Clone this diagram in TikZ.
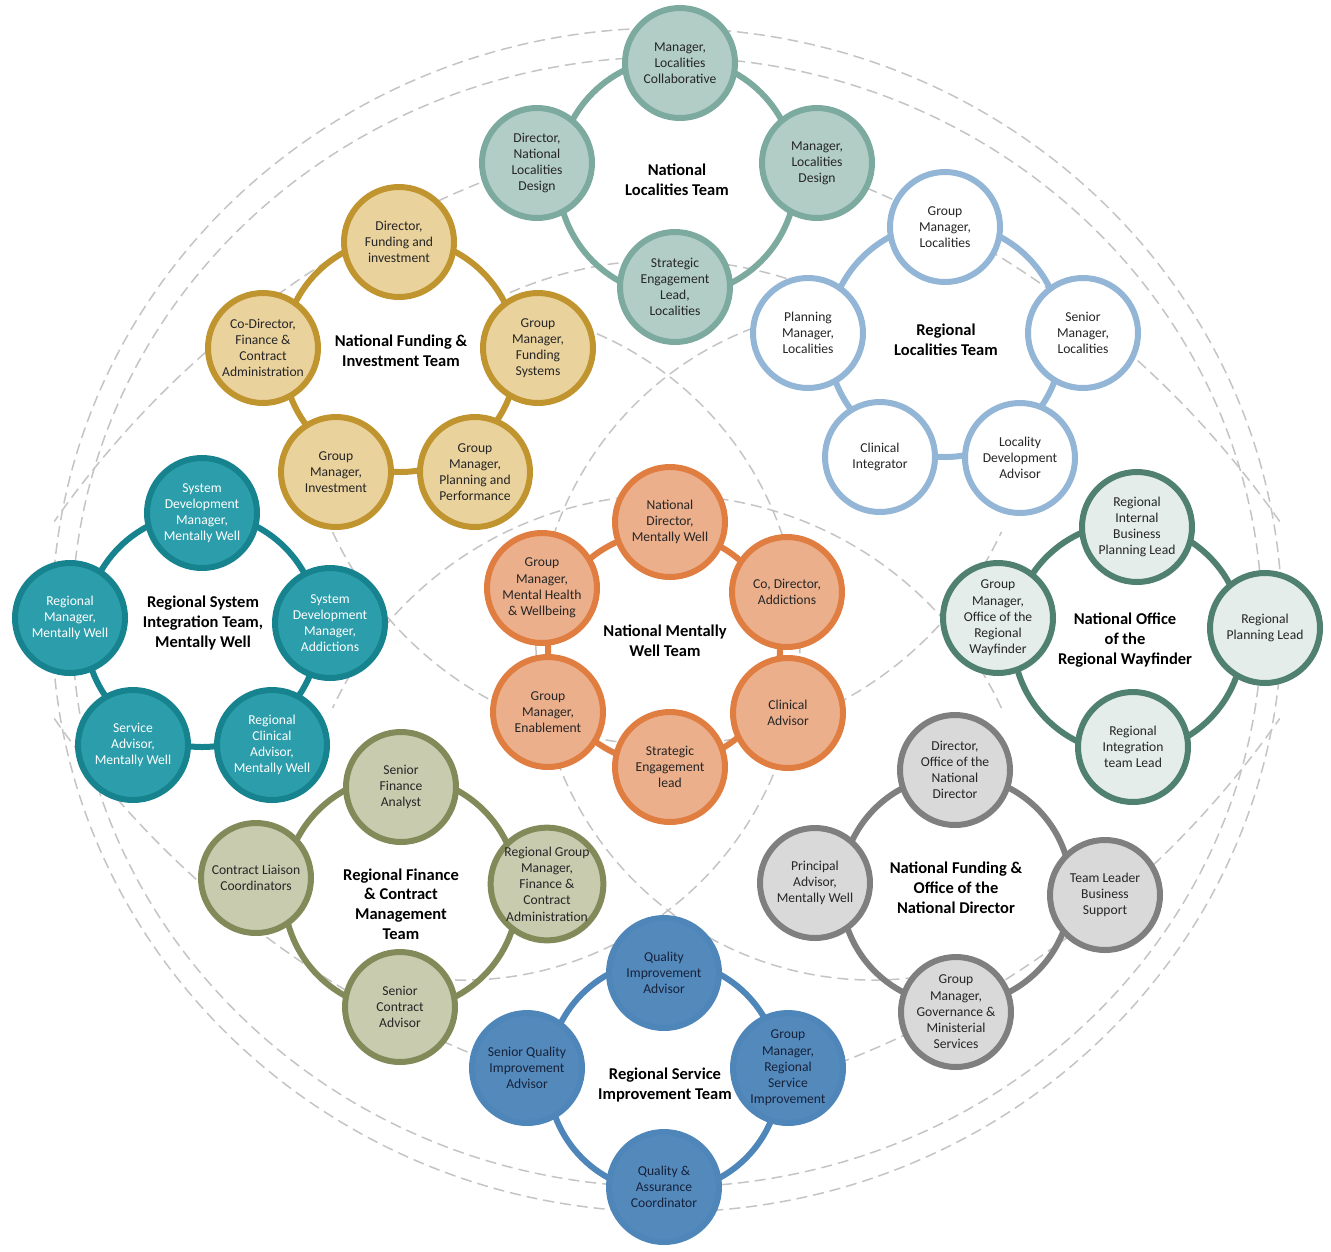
\documentclass[tikz,border=0pt]{standalone}
\usepackage{fontspec}
\setmainfont{Carlito}
\definecolor{locB}{HTML}{7DAA9E}
\definecolor{locF}{HTML}{B2CDC6}
\definecolor{fundB}{HTML}{C09530}
\definecolor{fundF}{HTML}{EAD29D}
\definecolor{rlocB}{HTML}{94B6D6}
\definecolor{sysB}{HTML}{16838F}
\definecolor{sysF}{HTML}{2C9EAB}
\definecolor{mwB}{HTML}{E07D41}
\definecolor{mwF}{HTML}{ECAF8C}
\definecolor{wayB}{HTML}{508070}
\definecolor{wayF}{HTML}{E4EDEA}
\definecolor{ndB}{HTML}{7F7F7F}
\definecolor{ndF}{HTML}{D9D9D9}
\definecolor{finB}{HTML}{838A59}
\definecolor{finF}{HTML}{C9CBAF}
\definecolor{rsiB}{HTML}{4F86B9}
\definecolor{rsiF}{HTML}{5489BC}
\definecolor{dashC}{HTML}{C4C4C4}
\definecolor{txt}{HTML}{262626}
\definecolor{rsiT}{HTML}{16223A}
\tikzset{
  mem/.style={circle, minimum size=110pt, inner sep=0pt, line width=6pt, align=center,
    font=\fontsize{13.6}{16.2}\selectfont, text=txt},
  ringc/.style={circle, inner sep=0pt, line width=6pt},
  ttl/.style={align=center, font=\fontsize{16.5}{19.8}\selectfont\bfseries, text=black},
  dsh/.style={draw=dashC, line width=1.5pt, dash pattern=on 11pt off 6pt},
  loc/.style={mem, draw=locB, fill=locF},
  fund/.style={mem, draw=fundB, fill=fundF},
  rloc/.style={mem, draw=rlocB, fill=white},
  sys/.style={mem, draw=sysB, fill=sysF, text=white},
  mw/.style={mem, draw=mwB, fill=mwF},
  way/.style={mem, draw=wayB, fill=wayF},
  nd/.style={mem, draw=ndB, fill=ndF},
  fin/.style={mem, draw=finB, fill=finF},
  rsi/.style={mem, draw=rsiB, fill=rsiF, text=rsiT},
}
\begin{document}
\begin{tikzpicture}[x=1pt,y=-1pt]
\useasboundingbox (0,0) rectangle (1331,1251);
% background dashed orbits
\draw[dsh] (667,620) ellipse [x radius=615pt, y radius=592pt];
\draw[dsh] (667,622) ellipse [x radius=595pt, y radius=565pt];
% central star (two lenses)
\draw[dsh] (463,643) ++(-100:337pt) arc [start angle=-100, end angle=75, radius=337pt];
\draw[dsh] (873,643) ++(105:337pt) arc [start angle=105, end angle=280, radius=337pt];
\draw[dsh] (667,864) ++(25:369pt) arc [start angle=25, end angle=155, radius=369pt];
\draw[dsh] (667,376) ++(-155:369pt) arc [start angle=-155, end angle=-25, radius=369pt];
\draw[dsh] (667,655) ++(65:395pt) arc [start angle=65, end angle=115, radius=395pt];
% long corner arcs
\draw[dsh] (839,1071) ++(108:958pt) arc [start angle=108, end angle=145, radius=958pt];
\draw[dsh] (495,1071) ++(35:958pt) arc [start angle=35, end angle=72, radius=958pt];
\draw[dsh] (839,169) ++(215:958pt) arc [start angle=215, end angle=250, radius=958pt];
\draw[dsh] (495,169) ++(290:958pt) arc [start angle=290, end angle=325, radius=958pt];

% rings
\node[ringc, draw=locB, minimum size=238pt] (locR) at (677,177) {};
\node[ringc, draw=fundB, minimum size=234pt] (fundR) at (400,355) {};
\node[ringc, draw=rlocB, minimum size=234pt] (rlocR) at (945,340) {};
\node[ringc, draw=sysB, minimum size=234pt] (sysR) at (202,630) {};
\node[ringc, draw=mwB, minimum size=232pt] (mwR) at (664,648) {};
\node[ringc, draw=wayB, minimum size=230pt] (wayR) at (1128,638) {};
\node[ringc, draw=ndB, minimum size=230pt] (ndR) at (956,890) {};
\node[ringc, draw=finB, minimum size=234pt] (finR) at (401,893) {};
\node[ringc, draw=rsiB, minimum size=232pt] (rsiR) at (664,1076) {};

% titles
\node[ttl] (locT) at (677,180) {National\\Localities Team};
\node[ttl] (fundT) at (401,351) {National Funding \&\\Investment Team};
\node[ttl] (rlocT) at (946,340) {Regional\\Localities Team};
\node[ttl] (sysT) at (203,623) {Regional System\\Integration Team,\\Mentally Well};
\node[ttl] (mwT) at (665,641) {National Mentally\\Well Team};
\node[ttl] (wayT) at (1125,640) {National Office\\of the\\Regional Wayfinder};
\node[ttl] (ndT) at (956,888) {National Funding \&\\Office of the\\National Director};
\node[ttl] (finT) at (401,904) {Regional Finance\\\& Contract\\Management\\Team};
\node[ttl] (rsiT) at (665,1085) {Regional Service\\Improvement Team};

% National Localities Team
\node[loc] (l1) at (680,63) {Manager,\\Localities\\Collaborative};
\node[loc] (l2) at (537,163) {Director,\\National\\Localities\\Design};
\node[loc] (l3) at (817,163) {Manager,\\Localities\\Design};
\node[loc] (l4) at (675,287) {Strategic\\Engagement\\Lead,\\Localities};

% National Funding & Investment Team
\node[fund] (f1) at (399,242) {Director,\\Funding and\\investment};
\node[fund] (f2) at (263,348) {Co-Director,\\Finance \&\\Contract\\Administration};
\node[fund] (f3) at (538,348) {Group\\Manager,\\Funding\\Systems};
\node[fund] (f4) at (336,472) {Group\\Manager,\\Investment};
\node[fund] (f5) at (475,472) {Group\\Manager,\\Planning and\\Performance};

% Regional Localities Team
\node[rloc] (r1) at (945,227) {Group\\Manager,\\Localities};
\node[rloc] (r2) at (1083,333) {Senior\\Manager,\\Localities};
\node[rloc] (r3) at (808,333) {Planning\\Manager,\\Localities};
\node[rloc] (r4) at (880,457) {Clinical\\Integrator};
\node[rloc] (r5) at (1020,458) {Locality\\Development\\Advisor};

% Regional System Integration Team
\node[sys] (s1) at (202,513) {System\\Development\\Manager,\\Mentally Well};
\node[sys] (s2) at (70,618) {Regional\\Manager,\\Mentally Well};
\node[sys] (s3) at (330,623) {System\\Development\\Manager,\\Addictions};
\node[sys] (s4) at (133,745) {Service\\Advisor,\\Mentally Well};
\node[sys] (s5) at (272,745) {Regional\\Clinical\\Advisor,\\Mentally Well};

% National Mentally Well Team
\node[mw] (m1) at (670,522) {National\\Director,\\Mentally Well};
\node[mw] (m2) at (787,592) {Co, Director,\\Addictions};
\node[mw] (m3) at (542,588) {Group\\Manager,\\Mental Health\\\& Wellbeing};
\node[mw] (m4) at (548,712) {Group\\Manager,\\Enablement};
\node[mw] (m5) at (788,713) {Clinical\\Advisor};
\node[mw] (m6) at (670,767) {Strategic\\Engagement\\lead};

% National Office of the Regional Wayfinder
\node[way] (w1) at (1137,527) {Regional\\Internal\\Business\\Planning Lead};
\node[way] (w2) at (1265,628) {Regional\\Planning Lead};
\node[way] (w3) at (998,618) {Group\\Manager,\\Office of the\\Regional\\Wayfinder};
\node[way] (w4) at (1133,747) {Regional\\Integration\\team Lead};

% National Funding & Office of the National Director
\node[nd] (n1) at (955,770) {Director,\\Office of the\\National\\Director};
\node[nd] (n2) at (815,883) {Principal\\Advisor,\\Mentally Well};
\node[nd] (n3) at (1105,895) {Team Leader\\Business\\Support};
\node[nd] (n4) at (956,1012) {Group\\Manager,\\Governance \&\\Ministerial\\Services};

% Regional Finance & Contract Management Team
\node[fin] (c1) at (401,787) {Senior\\Finance\\Analyst};
\node[fin] (c2) at (547,884) {Regional Group\\Manager,\\Finance \&\\Contract\\Administration};
\node[fin] (c3) at (256,878) {Contract Liaison\\Coordinators};
\node[fin] (c4) at (400,1007) {Senior\\Contract\\Advisor};

% Regional Service Improvement Team
\node[rsi] (q1) at (664,973) {Quality\\Improvement\\Advisor};
\node[rsi] (q2) at (527,1068) {Senior Quality\\Improvement\\Advisor};
\node[rsi] (q3) at (788,1068) {Group\\Manager,\\Regional\\Service\\Improvement};
\node[rsi] (q4) at (664,1187) {Quality \&\\Assurance\\Coordinator};
\end{tikzpicture}
\end{document}
